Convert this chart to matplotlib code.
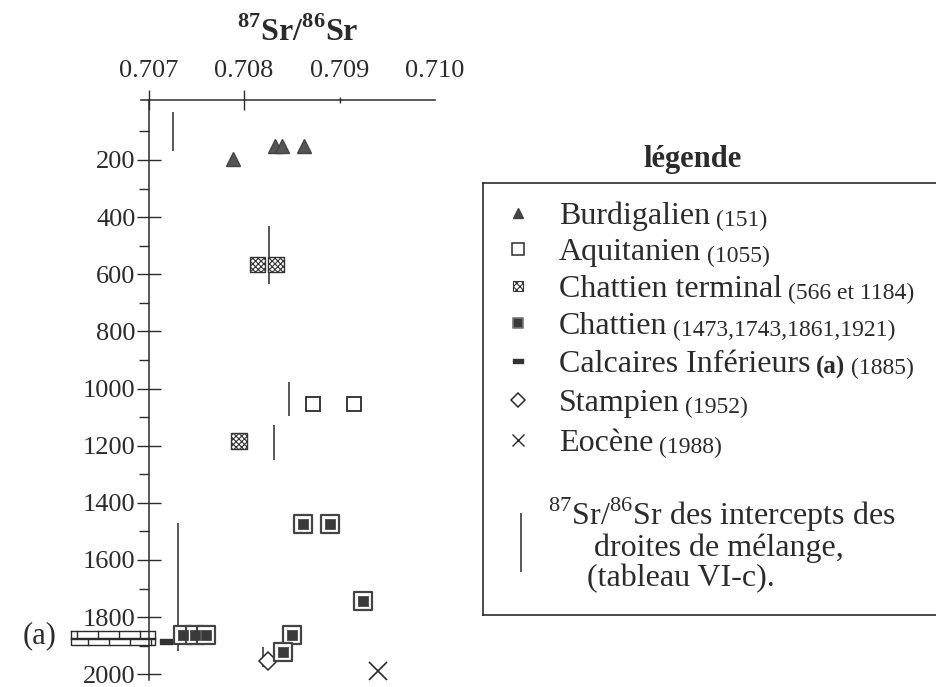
import numpy as np
import matplotlib
matplotlib.use("Agg")
import matplotlib.pyplot as plt
from matplotlib.path import Path

plt.rcParams['font.family'] = ['Liberation Serif', 'DejaVu Serif']
plt.rcParams['mathtext.fontset'] = 'custom'
plt.rcParams['mathtext.rm'] = 'Liberation Serif'
plt.rcParams['mathtext.bf'] = 'Liberation Serif:bold'
plt.rcParams['hatch.linewidth'] = 0.8
plt.rcParams['hatch.color'] = '#333333'

INK = '#2b2b2b'

# rapport isotopique (x) en fonction de la profondeur (y, m)
burd_x = [0.70788, 0.70832, 0.70840, 0.70863]
burd_y = [195, 151, 151, 151]
aqui_x = [0.70872, 0.70915]
aqui_y = [1055, 1055]
chterm_x = [0.70814, 0.70833, 0.70795]
chterm_y = [566, 566, 1184]
chatt_x = [0.70862, 0.70890, 0.70925, 0.70736, 0.70749, 0.70760, 0.70850, 0.70841]
chatt_y = [1473, 1473, 1743, 1861, 1861, 1861, 1861, 1921]
calc_x = [0.70718]
calc_y = [1885]
stamp_x = [0.70825]
stamp_y = [1952]
eoc_x = [0.70940]
eoc_y = [1988]

# intercepts des droites de mélange : x, profondeur haut, profondeur bas
inter_x = [0.70725, 0.70826, 0.70847, 0.70831, 0.70731, 0.70820]
inter_top = [31, 430, 976, 1128, 1470, 1905]
inter_bot = [168, 635, 1096, 1251, 1918, 1975]

# couche (a) des Calcaires Inférieurs
layer_top, layer_bot = 1849, 1898
layer_x0, layer_x1 = 0.70619, 0.70707

xticks = [0.707, 0.708, 0.709, 0.710]
yticks = list(range(200, 2001, 200))
yminor = list(range(100, 2000, 200))

leg_names = ['Burdigalien', 'Aquitanien', 'Chattien terminal', 'Chattien',
             'Calcaires Inférieurs', 'Stampien', 'Eocène']
leg_codes = ['(151)', '(1055)', '(566 et 1184)', '(1473,1743,1861,1921)',
             '(1885)', '(1952)', '(1988)']

dash = Path([(-1, -0.45), (1, -0.45), (1, 0.45), (-1, 0.45), (-1, -0.45)],
            closed=True)

fig = plt.figure(figsize=(9.37, 6.87), dpi=100)
ax = fig.add_axes([141/937, 1 - 680/687, 294/937, 580/687])
ax.set_xlim(0.70692, 0.71000)
ax.set_ylim(2020, -10)

for s in ['right', 'bottom']:
    ax.spines[s].set_visible(False)
ax.spines['left'].set_position(('data', 0.707))
for s in ['left', 'top']:
    ax.spines[s].set_color(INK)
    ax.spines[s].set_linewidth(1.1)

ax.xaxis.tick_top()
ax.set_xticks(xticks)
ax.set_xticklabels(['%.3f' % v for v in xticks])
ax.tick_params(axis='x', direction='inout', length=14, width=1, color=INK,
               labelsize=19, pad=6, labelcolor=INK)
xt = ax.xaxis.get_major_ticks()
xt[2].tick2line.set_markersize(5)
xt[3].tick2line.set_visible(False)
ax.set_yticks(yticks)
ax.set_yticks(yminor, minor=True)
ax.tick_params(axis='y', which='major', direction='inout', length=17, width=1,
               color=INK, labelsize=19, pad=1, labelcolor=INK)
ax.tick_params(axis='y', which='minor', direction='out', length=7, width=1, color=INK)

ax.vlines(inter_x, inter_top, inter_bot, color=INK, lw=1.1)

ax.plot(burd_x, burd_y, ls='none', marker='^', ms=10, color='#555555', mec='#444444')
ax.plot(aqui_x, aqui_y, ls='none', marker='s', ms=10, mfc='white', mec=INK, mew=1.3)
ax.scatter(chterm_x, chterm_y, marker='s', s=130, facecolor='white', edgecolor='#333333',
           hatch='xxxxxx', linewidths=1.0, zorder=3)
ax.scatter(chatt_x, chatt_y, marker='s', s=150, facecolor='white', edgecolor='#444444',
           linewidths=1.6, zorder=3)
ax.scatter(chatt_x, chatt_y, marker='s', s=62, facecolor='#3a3a3a', edgecolor='#3a3a3a',
           linewidths=0.5, zorder=4)
ax.plot(calc_x, calc_y, ls='none', marker=dash, ms=8, color='#333333')
ax.plot(stamp_x, stamp_y, ls='none', marker='D', ms=9, mfc='white', mec=INK, mew=1.1)
ax.plot(eoc_x, eoc_y, ls='none', marker='x', ms=13, color=INK, mew=1.2)

# figuré des calcaires (briques) à gauche de l'axe
bw = (layer_x1 - layer_x0) / 4
ymid = (layer_top + layer_bot) / 2
kw = dict(color=INK, lw=1.0, clip_on=False)
ax.plot([layer_x0, layer_x1, layer_x1, layer_x0, layer_x0],
        [layer_top, layer_top, layer_bot, layer_bot, layer_top], **kw)
ax.plot([layer_x0, layer_x1], [ymid, ymid], **kw)
ax.plot([layer_x0, layer_x1], [ymid + 4, ymid + 4], **kw)
for xj in layer_x0 + bw * (np.arange(4) + 0.25):
    ax.plot([xj, xj], [layer_top, ymid], **kw)
for xj in layer_x0 + bw * (np.arange(4) + 0.8):
    ax.plot([xj, xj], [ymid + 4, layer_bot], **kw)
ax.text(layer_x0 - 0.00015, ymid - 8, '(a)', ha='right', va='center',
        fontsize=22, color=INK, clip_on=False)

fig.text(298/937, 1 - 32/687, r'$^{\mathbf{87}}$Sr/$^{\mathbf{86}}$Sr', ha='center',
         va='center', fontsize=23, fontweight='bold', color=INK)

# légende dessinée en coordonnées pixel de la figure
lax = fig.add_axes([483/937, 1 - 615/687, (960 - 483)/937, (615 - 183)/687])
lax.set_xlim(483, 960)
lax.set_ylim(615, 183)
lax.set_xticks([])
lax.set_yticks([])
for s in lax.spines.values():
    s.set_color(INK)
    s.set_linewidth(1.2)

fig.text(693/937, 1 - 160/687, 'légende', ha='center', va='center', fontsize=22,
         fontweight='bold', color=INK)

row_y = [213, 249, 286, 323, 361, 400, 440]
mx, tx = 518, 559
lax.plot(mx, row_y[0], ls='none', marker='^', ms=7, color='#444444')
lax.plot(mx, row_y[1], ls='none', marker='s', ms=8, mfc='white', mec=INK, mew=1.1)
lax.scatter([mx], [row_y[2]], marker='s', s=55, facecolor='white', edgecolor='#333333',
            hatch='xxxxx', linewidths=0.8)
lax.scatter([mx], [row_y[3]], marker='s', s=60, facecolor='#3a3a3a', edgecolor='#777777',
            linewidths=1.2)
lax.plot(mx, row_y[4], ls='none', marker=dash, ms=7, color='#333333')
lax.plot(mx, row_y[5], ls='none', marker='D', ms=7, mfc='white', mec=INK, mew=1.1)
lax.plot(mx, row_y[6], ls='none', marker='x', ms=9, color=INK, mew=1.0)

for name, code, yy in zip(leg_names, leg_codes, row_y):
    t = lax.text(tx, yy, name, ha='left', va='center_baseline', fontsize=23, color=INK)
    if name.startswith('Calcaires'):
        t = lax.annotate('(a)', xy=(1, 0), xycoords=t, xytext=(4, 0),
                         textcoords='offset points', ha='left', va='bottom',
                         fontsize=18, fontweight='bold', color=INK)
    lax.annotate(code, xy=(1, 0), xycoords=t, xytext=(4, 0),
                 textcoords='offset points', ha='left', va='bottom',
                 fontsize=17, color=INK)

lax.vlines([521], 513, 572, color=INK, lw=1.1)
lax.text(548, 515, r'$^{87}$Sr/$^{86}$Sr des intercepts des', ha='left', va='center',
         fontsize=23, color=INK)
lax.text(594, 548, 'droites de mélange,', ha='left', va='center', fontsize=23, color=INK)
lax.text(587, 579, '(tableau VI-c).', ha='left', va='center', fontsize=23, color=INK)

fig.savefig('out.png', dpi=100)
